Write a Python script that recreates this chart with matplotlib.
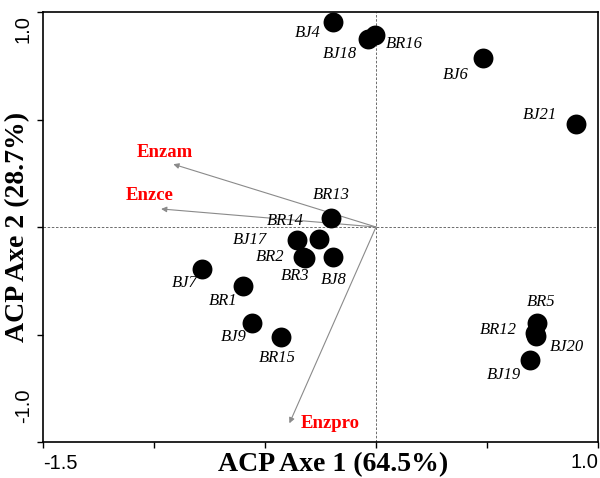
import matplotlib
matplotlib.use("Agg")
import matplotlib.pyplot as plt

# Individus (scores sur les axes 1 et 2)
noms = ["BJ4", "BJ18", "BR16", "BJ6", "BJ21", "BR13", "BR14", "BJ17", "BR2", "BR3",
        "BJ8", "BJ7", "BR1", "BJ9", "BR15", "BR5", "BR12", "BJ20", "BJ19"]
axe1 = [-0.195, -0.035, -0.005, 0.481, 0.899, -0.203, -0.255, -0.357, -0.330, -0.322,
        -0.192, -0.782, -0.598, -0.557, -0.428, 0.727, 0.716, 0.721, 0.694]
axe2 = [0.952, 0.873, 0.893, 0.785, 0.479, 0.040, -0.057, -0.060, -0.141, -0.146,
        -0.141, -0.197, -0.274, -0.448, -0.513, -0.445, -0.493, -0.507, -0.619]

# Variables (fleches)
variables = ["Enzam", "Enzce", "Enzpro"]
var_axe1 = [-0.913, -0.968, -0.390]
var_axe2 = [0.292, 0.084, -0.913]

xticks = [-1.5, -1.0, -0.5, 0.0, 0.5, 1.0]
yticks = [-1.0, -0.5, 0.0, 0.5, 1.0]
xtick_labels = ["-1.5", "1.0"]
ytick_labels = ["1.0", "-1.0"]

# decalage des etiquettes (pixels)
decal = {
    "BJ4": (-25, -11), "BJ18": (-28, -15), "BR16": (29, -9), "BJ6": (-27, -17),
    "BJ21": (-36, 9), "BR13": (0, 23), "BR14": (-34, 18), "BJ17": (-47, 0),
    "BR2": (-33, 0), "BR3": (-9, -18), "BJ8": (0, -23), "BJ7": (-18, -14),
    "BR1": (-20, -15), "BJ9": (-19, -14), "BR15": (-4, -21), "BR5": (4, 21),
    "BR12": (-37, 3), "BJ20": (31, -11), "BJ19": (-26, -15),
}
decal_var = {"Enzam": (-8, 12), "Enzce": (-11, 13), "Enzpro": (41, 0)}

fig = plt.figure(figsize=(6, 4.78), dpi=100)
ax = fig.add_axes([43 / 600, 36 / 478, 555 / 600, 430 / 478])
ax.set_xlim(-1.5, 1.0)
ax.set_ylim(-1.0, 1.0)

ax.axhline(0, color="#555555", lw=0.6, ls=(0, (3, 2)), zorder=1)
ax.axvline(0, color="#555555", lw=0.6, ls=(0, (3, 2)), zorder=1)

for nom, vx, vy in zip(variables, var_axe1, var_axe2):
    ax.annotate("", xy=(vx, vy), xytext=(0, 0),
                arrowprops=dict(arrowstyle="-|>", color="#8a8a8a", lw=0.8,
                                mutation_scale=8, shrinkA=0, shrinkB=0), zorder=2)
    ax.annotate(nom, xy=(vx, vy), xytext=decal_var[nom], textcoords="offset pixels",
                ha="center", va="center", color="red", fontsize=13.5,
                fontweight="bold", family="Liberation Serif", zorder=4)

ax.scatter(axe1, axe2, s=205, color="black", zorder=3, linewidths=0)
for nom, px, py in zip(noms, axe1, axe2):
    ax.annotate(nom, xy=(px, py), xytext=decal[nom], textcoords="offset pixels",
                ha="center", va="center", fontsize=12, style="italic",
                family="Liberation Serif", zorder=4)

ax.set_xticks(xticks)
ax.set_yticks(yticks)
ax.set_xticklabels([])
ax.set_yticklabels([])
ax.tick_params(direction="out", length=4, width=1, top=False, right=False)
for s in ax.spines.values():
    s.set_linewidth(1.2)

# seules les extremites des axes sont etiquetees
tf = {"family": "Liberation Sans", "fontsize": 14.5}
ax.annotate(xtick_labels[0], xy=(xticks[0], 0), xycoords=("data", "axes fraction"),
            xytext=(0, -12), textcoords="offset pixels", ha="left", va="top", **tf)
ax.annotate(xtick_labels[1], xy=(xticks[-1], 0), xycoords=("data", "axes fraction"),
            xytext=(0, -11), textcoords="offset pixels", ha="right", va="top", **tf)
ax.annotate(ytick_labels[0], xy=(0, yticks[-1]), xycoords=("axes fraction", "data"),
            xytext=(-10, -3), textcoords="offset pixels", ha="right", va="top",
            rotation=90, **tf)
ax.annotate(ytick_labels[1], xy=(0, yticks[0]), xycoords=("axes fraction", "data"),
            xytext=(-10, 19), textcoords="offset pixels", ha="right", va="bottom",
            rotation=90, **tf)

lf = {"family": "Liberation Serif", "fontsize": 20, "fontweight": "bold"}
ax.set_xlabel("ACP Axe 1 (64.5%)", **lf)
ax.set_ylabel("ACP Axe 2 (28.7%)", **lf)
ax.xaxis.set_label_coords(0.523, -0.053)
ax.yaxis.set_label_coords(-0.045, 0.5)
ax.xaxis.label.set_va("center")
ax.yaxis.label.set_va("center")

fig.savefig("out.png", dpi=100)
